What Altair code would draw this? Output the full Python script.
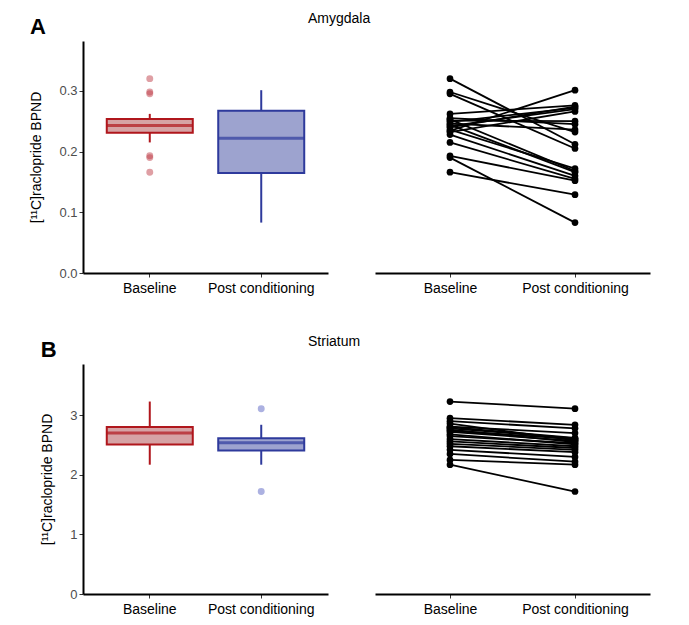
import altair as alt
import pandas as pd

groups = ["Baseline", "Post conditioning"]

# Amygdala, paired by subject index
amy_base = [0.320, 0.298, 0.295, 0.262, 0.255, 0.253, 0.251, 0.249, 0.246, 0.244,
            0.242, 0.240, 0.236, 0.234, 0.232, 0.228, 0.215, 0.193, 0.190, 0.166]
amy_post = [0.212, 0.232, 0.205, 0.276, 0.245, 0.168, 0.250, 0.272, 0.236, 0.166,
            0.270, 0.274, 0.172, 0.301, 0.266, 0.160, 0.155, 0.152, 0.083, 0.129]

# Striatum, paired by subject index
str_base = [3.23, 2.95, 2.90, 2.86, 2.81, 2.80, 2.78, 2.76, 2.74, 2.72,
            2.68, 2.65, 2.60, 2.56, 2.52, 2.48, 2.42, 2.35, 2.25, 2.17]
str_post = [3.11, 2.84, 2.78, 2.58, 2.70, 2.62, 2.61, 2.55, 2.60, 2.57,
            2.51, 2.53, 2.48, 2.45, 2.42, 2.38, 2.30, 2.22, 2.17, 1.72]

y_ticks_amy = [0.0, 0.1, 0.2, 0.3]
y_ticks_str = [0, 1, 2, 3]
y_title = "[\u00b9\u00b9C]raclopride BPND"

RED_STROKE, RED_FILL, RED_OUT = "#b0161c", "#d6a3a5", "#c0404a"
BLUE_STROKE, BLUE_FILL, BLUE_OUT = "#2e3a9c", "#9da3cf", "#5a64c4"
FONT = "Liberation Sans"


def long_df(base, post):
    rows = []
    for i, (b, p) in enumerate(zip(base, post)):
        rows.append({"subject": i, "condition": groups[0], "value": b})
        rows.append({"subject": i, "condition": groups[1], "value": p})
    return pd.DataFrame(rows)


def xaxis():
    return alt.Axis(title=None, labelAngle=0, domainColor="black", domainWidth=2,
                    tickColor="#333333", tickSize=4, labelColor="black",
                    labelFontSize=14, labelPadding=4, labelFont=FONT, grid=False)


def panel_pair(base, post, ydom, yticks, fmt, height, letter, region):
    df = long_df(base, post)
    yscale = alt.Scale(domain=ydom, nice=False, zero=True)
    yaxis = alt.Axis(values=yticks, format=fmt, domainColor="black", domainWidth=2,
                     tickColor="#333333", tickSize=4, labelColor="#4d4d4d",
                     labelFontSize=13, labelPadding=2, labelFont=FONT, grid=False,
                     title=y_title, titleFontSize=14, titleFontWeight="normal",
                     titleColor="black", titleFont=FONT, titlePadding=15)
    xscale = alt.Scale(domain=groups, paddingInner=0.23, paddingOuter=0.214)
    layers = []
    for g, stroke, fill, outc in [(groups[0], RED_STROKE, RED_FILL, RED_OUT),
                                  (groups[1], BLUE_STROKE, BLUE_FILL, BLUE_OUT)]:
        layers.append(
            alt.Chart(df)
            .transform_filter(alt.datum.condition == g)
            .mark_boxplot(
                extent=1.5, size=86,
                box={"fill": fill, "stroke": stroke, "strokeWidth": 2},
                median={"color": stroke, "thickness": 3},
                rule={"color": stroke, "strokeWidth": 2},
                outliers={"filled": True, "color": outc, "opacity": 0.5, "size": 48,
                          "strokeWidth": 0},
            )
            .encode(
                x=alt.X("condition:N", scale=xscale, axis=xaxis()),
                y=alt.Y("value:Q", scale=yscale, axis=yaxis),
            )
        )
    left = alt.layer(*layers).properties(
        width=245, height=height,
        title=alt.TitleParams(letter, anchor="start", frame="bounds", fontSize=22,
                              fontWeight="bold", font=FONT, color="black", offset=2),
    )

    rx = alt.X("condition:N", scale=alt.Scale(type="point", domain=groups, padding=0.6),
               axis=xaxis())
    ry = alt.Y("value:Q", scale=yscale, axis=None)
    lines = alt.Chart(df).mark_line(color="black", strokeWidth=1.8).encode(
        x=rx, y=ry, detail="subject:N")
    pts = alt.Chart(df).mark_point(filled=True, color="black", size=45, opacity=1).encode(
        x=rx, y=ry)
    right = alt.layer(lines, pts).properties(
        width=275, height=height,
        title=alt.TitleParams(region, anchor="start", dx=-67, fontSize=14,
                              fontWeight="normal", font=FONT, color="black", offset=15),
    )
    return alt.hconcat(left, right, spacing=47, bounds="flush").resolve_scale(y="independent")


row1 = panel_pair(amy_base, amy_post, [0, 0.382], y_ticks_amy, ".1f", 232, "A", "Amygdala")
row2 = panel_pair(str_base, str_post, [0, 3.86], y_ticks_str, "d", 230, "B", "Striatum")

chart = (
    alt.vconcat(row1, row2, spacing=40)
    .resolve_scale(y="independent")
    .properties(padding={"left": 21, "top": 4, "right": 5, "bottom": 5},
                background="white")
    .configure_view(stroke=None)
)

chart.save("out.html", embed_options={"renderer": "svg", "actions": False})
